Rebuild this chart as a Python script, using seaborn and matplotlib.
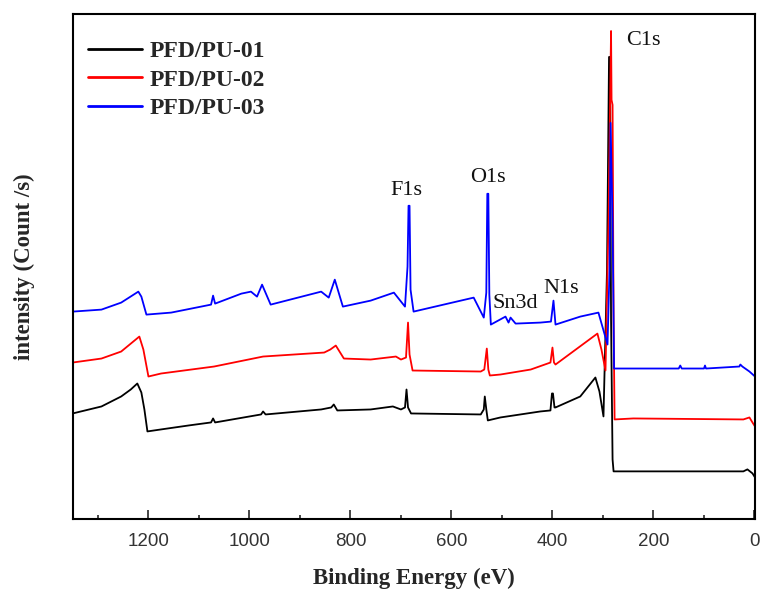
import matplotlib
matplotlib.use("Agg")
import matplotlib.pyplot as plt
import seaborn as sns
import pandas as pd
from matplotlib.lines import Line2D
from matplotlib.ticker import MultipleLocator

# ---- data (binding energy in eV, intensity in arbitrary units, offset spectra) ----
series_names = ["PFD/PU-01", "PFD/PU-02", "PFD/PU-03"]
series_colors = ["#000000", "#FF0000", "#0000FF"]

be_01 = [1350, 1293, 1254, 1235, 1222, 1214, 1208, 1202, 1175, 1120, 1076, 1072, 1068,
         977, 973, 968, 858, 838, 833, 826, 760, 716, 700, 692, 689, 686, 680,
         542, 536, 534, 531, 528, 503, 424, 404, 401, 399, 396, 394, 345, 315, 307,
         299, 292, 288, 286, 284, 281, 279, 22, 14, 4, -1]
int_01 = [106, 113, 123, 130, 136, 127, 110, 88, 90, 94, 97, 101, 97,
          105, 108, 105, 110, 112, 115, 109, 110, 113, 110, 112, 130, 112, 106,
          105, 110, 123, 110, 99, 102, 108, 109, 126, 126, 112, 112, 123, 142, 128,
          103, 250, 463, 463, 200, 60, 48, 48, 50, 46, 42]

be_02 = [1350, 1293, 1254, 1218, 1210, 1200, 1175, 1070, 973, 852, 840, 829, 813,
         760, 710, 700, 690, 686, 683, 677, 542, 535, 530, 527, 524, 503, 443,
         404, 400, 397, 394, 311, 303, 295, 289, 284, 283, 281, 279, 277,
         240, 22, 10, 4, -1]
int_02 = [157, 161, 168, 183, 170, 143, 146, 153, 163, 167, 170, 174, 161,
          160, 163, 160, 162, 197, 165, 149, 148, 150, 171, 150, 144, 145, 150,
          157, 172, 157, 155, 186, 170, 149, 300, 489, 420, 415, 200, 100,
          101, 100, 102, 97, 93]

be_03 = [1350, 1293, 1254, 1220, 1214, 1204, 1155, 1076, 1072, 1068, 1016, 997, 985,
         975, 958, 858, 843, 831, 815, 760, 714, 692, 687, 685, 683, 681, 675,
         556, 536, 531, 529, 527, 525, 522, 493, 490, 487, 483, 473, 424, 403,
         398, 394, 345, 309, 291, 287, 285, 281, 278, 150, 147, 144, 100, 98, 96,
         30, 28, 24, 10, -1]
int_03 = [208, 210, 217, 228, 223, 205, 207, 215, 224, 216, 226, 228, 223,
          235, 215, 228, 222, 240, 213, 219, 227, 213, 253, 314, 314, 230, 208,
          222, 202, 227, 326, 326, 225, 195, 203, 200, 197, 202, 196, 197, 198,
          219, 195, 203, 207, 175, 250, 397, 300, 151, 151, 154, 151, 151, 154, 151,
          153, 155, 153, 148, 143]

peak_labels = ["C1s", "F1s", "O1s", "Sn3d", "N1s"]
peak_label_be = [220, 690, 528, 473, 382]
peak_label_int = [475, 325, 338, 212, 227]

# ---- build long-form table ----
frames = []
for name, be, it in zip(series_names, [be_01, be_02, be_03], [int_01, int_02, int_03]):
    frames.append(pd.DataFrame({"be": be, "intensity": it, "sample": name}))
df = pd.concat(frames, ignore_index=True)

sns.set_theme(style="white")
plt.rcParams["font.family"] = ["Liberation Serif", "DejaVu Serif"]

fig = plt.figure(figsize=(7.61, 5.92), dpi=100)
ax = fig.add_axes([0.0955, 0.1228, 0.8966, 0.8535])

sns.lineplot(data=df, x="be", y="intensity", hue="sample", units="sample",
             hue_order=series_names, palette=series_colors, estimator=None,
             sort=False, linewidth=1.3, legend=False, ax=ax)

ax.set_xlim(1350, -1)
ax.set_ylim(0, 506)

for spine in ax.spines.values():
    spine.set_visible(True)
    spine.set_color("black")
    spine.set_linewidth(1.5)

ax.xaxis.set_major_locator(MultipleLocator(200))
ax.xaxis.set_minor_locator(MultipleLocator(100))
ax.tick_params(axis="x", which="major", direction="in", length=6.5, width=1.2,
               bottom=True, top=False, labelsize=13.5, labelcolor="#333333", pad=10)
ax.tick_params(axis="x", which="minor", direction="in", length=3.2, width=1.2,
               bottom=True, top=False)
ax.set_yticks([])
for lab in ax.get_xticklabels():
    lab.set_family(["Liberation Sans", "DejaVu Sans"])

ax.set_xlabel("Binding Energy (eV)", fontsize=16.5, fontweight="bold", labelpad=13)
ax.set_ylabel("intensity (Count /s)", fontsize=16.5, fontweight="bold", labelpad=27)

for t, x, y in zip(peak_labels, peak_label_be, peak_label_int):
    ax.text(x, y, t, fontsize=16, ha="center", va="baseline", color="#111111")

handles = [Line2D([0], [0], color=c, lw=2) for c in series_colors]
ax.legend(handles, series_names, loc="upper left", frameon=False,
          prop={"family": "Liberation Serif", "weight": "bold", "size": 17},
          handlelength=2.3, handletextpad=0.3, labelspacing=0.3,
          bbox_to_anchor=(-0.005, 0.985), borderaxespad=0.4)

fig.savefig("out.png", dpi=100)
